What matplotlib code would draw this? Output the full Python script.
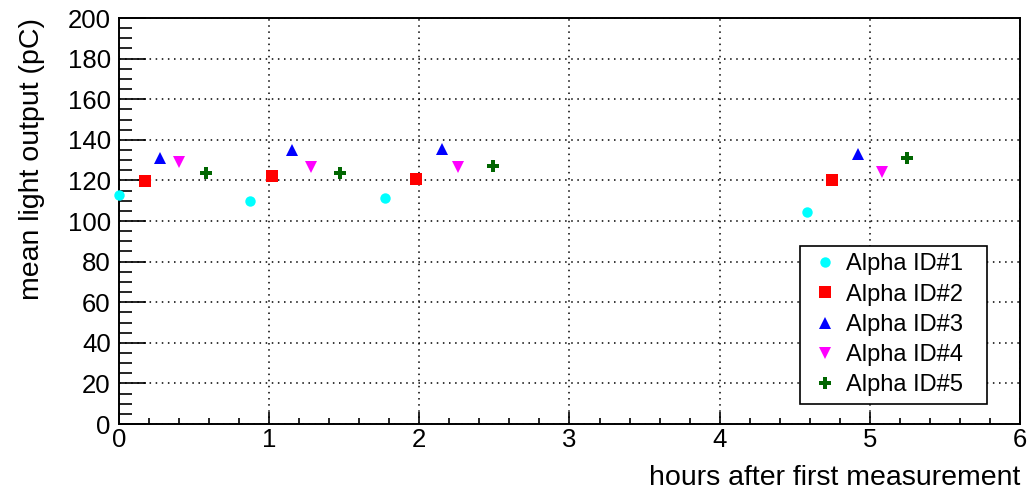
import numpy as np
import matplotlib
matplotlib.use("Agg")
import matplotlib.pyplot as plt
from matplotlib.ticker import MultipleLocator

plt.rcParams['font.family'] = ['Liberation Sans', 'DejaVu Sans']

# hours after first measurement / mean light output (pC) for each alpha source
labels = ["Alpha ID#1", "Alpha ID#2", "Alpha ID#3", "Alpha ID#4", "Alpha ID#5"]
hours = [
    [0.00, 0.87, 1.77, 4.58],
    [0.17, 1.02, 1.98, 4.75],
    [0.27, 1.15, 2.15, 4.92],
    [0.40, 1.28, 2.26, 5.08],
    [0.58, 1.47, 2.49, 5.25],
]
light = [
    [112.7, 109.8, 111.4, 104.4],
    [119.7, 122.1, 120.8, 120.0],
    [130.9, 134.8, 135.6, 132.8],
    [129.2, 126.8, 126.6, 124.1],
    [123.8, 123.8, 127.1, 131.2],
]

colors = ["#00ffff", "#ff0000", "#0000ff", "#ff00ff", "#006600"]
markers = ["o", "s", "^", "v", "P"]
sizes = [7.5, 8, 8, 8, 8.5]

fig = plt.figure(figsize=(10.31, 4.95), dpi=100)
ax = fig.add_axes([0.1154, 0.1434, 0.8739, 0.8202])

for x, y, c, m, s, lab in zip(hours, light, colors, markers, sizes, labels):
    ax.plot(x, y, linestyle="none", marker=m, color=c, markersize=s,
            markeredgewidth=0, label=lab, clip_on=False, zorder=3)

ax.set_xlim(0, 6)
ax.set_ylim(0, 200)
ax.xaxis.set_major_locator(MultipleLocator(1))
ax.xaxis.set_minor_locator(MultipleLocator(0.2))
ax.yaxis.set_major_locator(MultipleLocator(20))
ax.yaxis.set_minor_locator(MultipleLocator(5))
ax.grid(True, which="major", color="black", linestyle=(0, (1, 3)), linewidth=1.1)

ax.tick_params(axis="both", which="both", direction="in", top=False, right=False,
               labelsize=18.5, width=1.2, color="black")
ax.tick_params(axis="y", which="major", length=19.5, pad=6)
ax.tick_params(axis="y", which="minor", length=9.5)
ax.tick_params(axis="x", which="major", length=8.5, pad=3)
ax.tick_params(axis="x", which="minor", length=4.5)
for sp in ax.spines.values():
    sp.set_linewidth(1.4)

ax.set_xlabel("hours after first measurement", fontsize=20.5, loc="right", labelpad=9)
ax.set_ylabel("mean light output (pC)", fontsize=20.5, loc="top", labelpad=16)

leg = ax.legend(loc="upper left", bbox_to_anchor=(0.756, 0.0616, 0.207, 0.376),
                mode="expand", fontsize=17, frameon=True, fancybox=False,
                edgecolor="black", framealpha=1, borderpad=0.3, labelspacing=0.35,
                handletextpad=0.15, handlelength=1.5, borderaxespad=0)
leg.get_frame().set_linewidth(1.2)

fig.savefig("out.png", dpi=100)
